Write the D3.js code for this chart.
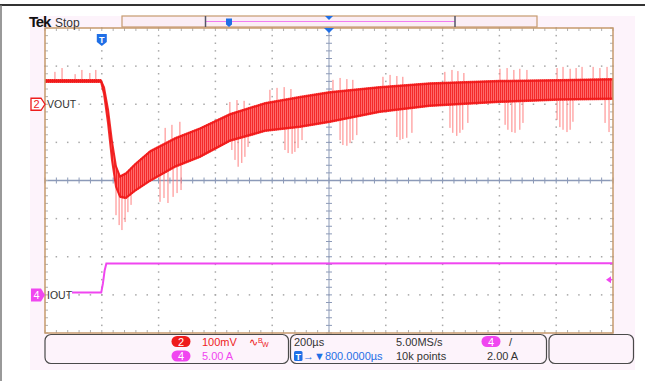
<!DOCTYPE html>
<html><head><meta charset="utf-8">
<script src="https://cdn.jsdelivr.net/npm/d3@7/dist/d3.min.js"></script>
<style>
body{margin:0;background:#fff}
svg{display:block}
text{font-family:"Liberation Sans",Arial,sans-serif}
</style></head>
<body><svg id="c" width="645" height="381"></svg>
<script>
// ---- data (time in µs relative to trigger) ----
const timeUs  = [-200, -3, 8, 22, 36, 50, 64, 85, 117, 170, 258, 346, 451, 575, 698, 803, 979, 1155, 1402, 1613, 1800];
const voutHi  = [66, 66, 48, -10, -94, -159, -186, -178, -154, -120, -86, -60, -23, 6, 22, 35, 48, 58, 64, 66, 69];   // mV, top of trace band
const voutLo  = [56, 56, 22, -54, -151, -220, -246, -249, -230, -204, -167, -141, -99, -73, -62, -49, -23, -7, 3, 9, 11]; // mV, bottom of band
const dipT = [50,61,71,82,92,103, 205,219,233,251,265,279, 458,469,480,493,504,515, 645,656,670,680,691,705,
              839,849,863,874,884,898, 1039,1050,1060,1074,1092, 1226,1236,1250,1261,1271,1289,
              1420,1430,1444,1455,1472,1483, 1603,1613,1624,1638,1649,1659, 1772,1786];
const dipV = [-291,-317,-330,-309,-283,-264, -256,-246,-259,-243,-233,-225, -120,-146,-164,-154,-138,-112,
              -120,-128,-130,-125,-115,-94, -94,-107,-109,-102,-94,-81, -86,-94,-91,-88,-75,
              -62,-75,-83,-75,-67,-49, -54,-67,-73,-75,-67,-49, -41,-60,-67,-73,-67,-46, -49,-73];
const peakT = [-165,-140,-94,-70,-42,-21, 223,247,275, 451,476,501, 592,617,642,666, 814,839,863,884,
               990,1015,1039,1060, 1208,1233,1254,1275, 1402,1427,1451,1472,1497, 1603,1624,1649,1670,1691, 1730,1754,1779];
const peakV = [85,95,79,90,82,90, -62,-54,-46, 6,11,9, 38,43,45,40, 64,69,66,64,
               72,77,74,72, 85,90,87,82, 93,95,90,93,90, 95,98,93,95,98, 98,95,98];
const ioutT = [-105, -2, 4, 10, 16, 1800];
const ioutA = [0.3, 0.3, 1.5, 3.2, 4.1, 4.15];
const timeDomain = [-200, 1800];     // 200 µs/div, trigger at 1 div
const ch2Domain = [-600, 200];       // 100 mV/div, marker +2 div
const ch4Domain = [-5, 35];          // 5 A/div, marker -3 div
const trigLevelA = 2.0;
const row1 = {ch2: "100mV", time: "200µs", rate: "5.00MS/s"};
const row2 = {ch4: "5.00 A", pos: "→▼800.0000µs", pts: "10k points", trig: "2.00 A"};

// ---- layout ----
const L=45, R=613, T=28, B=333;
const svg = d3.select("#c");
const x = d3.scaleLinear().domain(timeDomain).range([L,R]);
const y2 = d3.scaleLinear().domain(ch2Domain).range([B,T]);
const y4 = d3.scaleLinear().domain(ch4Domain).range([B,T]);
const gx = d3.scaleLinear().domain([0,10]).range([L,R]);
const gy = d3.scaleLinear().domain([0,8]).range([T,B]);

// backgrounds / frame
svg.append("rect").attr("x",30).attr("y",16).attr("width",605).attr("height",354).attr("fill","#fdf3fb");
svg.append("line").attr("x1",0).attr("x2",645).attr("y1",5).attr("y2",5).attr("stroke","#333").attr("stroke-width",2);
svg.append("line").attr("x1",1).attr("x2",1).attr("y1",5).attr("y2",381).attr("stroke","#777").attr("stroke-width",1.5);
svg.append("rect").attr("x",L).attr("y",T).attr("width",R-L).attr("height",B-T).attr("fill","#fff");

// grid dots
const minor = d3.range(0, 50.01, 1).map(d=>d/5);
const minorY = d3.range(0, 40.01, 1).map(d=>d/5);
const grid = svg.append("g").attr("fill","#a8a8a8");
for (let i=1;i<10;i++){ if(i===5) continue;
  grid.selectAll(null).data(minorY).join("rect").attr("x",gx(i)-0.75).attr("y",d=>gy(d)-0.75).attr("width",1.5).attr("height",1.5);
}
for (let j=1;j<8;j++){ if(j===4) continue;
  grid.selectAll(null).data(minor).join("rect").attr("x",d=>gx(d)-0.75).attr("y",gy(j)-0.75).attr("width",1.5).attr("height",1.5);
}
// center lines with ticks
const cl = svg.append("g").attr("stroke","#8c9ab8");
cl.append("line").attr("x1",L).attr("x2",R).attr("y1",gy(4)).attr("y2",gy(4)).attr("stroke-width",1.6);
cl.append("line").attr("x1",gx(5)).attr("x2",gx(5)).attr("y1",T).attr("y2",B).attr("stroke-width",1.3).attr("stroke","#a8b2c8");
cl.selectAll(null).data(minor).join("line").attr("x1",d=>gx(d)).attr("x2",d=>gx(d)).attr("y1",gy(4)-3).attr("y2",gy(4)+3).attr("stroke-width",1);
cl.selectAll(null).data(minorY).join("line").attr("y1",d=>gy(d)).attr("y2",d=>gy(d)).attr("x1",gx(5)-3).attr("x2",gx(5)+3).attr("stroke-width",1);
// edge ticks
const et = svg.append("g").attr("stroke","#b0b0b0").attr("stroke-width",1);
et.selectAll(null).data(minor).join("line").attr("x1",d=>gx(d)).attr("x2",d=>gx(d)).attr("y1",T).attr("y2",T+3);
et.selectAll(null).data(minor).join("line").attr("x1",d=>gx(d)).attr("x2",d=>gx(d)).attr("y1",B-3).attr("y2",B);
et.selectAll(null).data(minorY).join("line").attr("y1",d=>gy(d)).attr("y2",d=>gy(d)).attr("x1",L).attr("x2",L+3);
et.selectAll(null).data(minorY).join("line").attr("y1",d=>gy(d)).attr("y2",d=>gy(d)).attr("x1",R-3).attr("x2",R);

// VOUT trace
const defs = svg.append("defs");
const pat = defs.append("pattern").attr("id","hair").attr("width",2).attr("height",6).attr("patternUnits","userSpaceOnUse");
pat.append("rect").attr("width",2).attr("height",6).attr("fill","#ff6a6a");
pat.append("rect").attr("width",1).attr("height",6).attr("fill","#f42a2a");
const band = timeUs.map((t,i)=>({t, hi:voutHi[i], lo:voutLo[i]}));
const loAt = d3.scaleLinear().domain(timeUs).range(voutLo);
const hiAt = d3.scaleLinear().domain(timeUs).range(voutHi);
const tr = svg.append("g");
tr.selectAll(null).data(dipT).join("line")
  .attr("x1",d=>x(d)).attr("x2",d=>x(d)).attr("y1",d=>y2(loAt(d))-2).attr("y2",(d,i)=>y2(dipV[i]))
  .attr("stroke","#ff8080").attr("stroke-width",1);
tr.selectAll(null).data(peakT).join("line")
  .attr("x1",d=>x(d)).attr("x2",d=>x(d)).attr("y1",d=>y2(hiAt(d))+2).attr("y2",(d,i)=>y2(peakV[i]))
  .attr("stroke","#ff8080").attr("stroke-width",1);
tr.append("path").datum(band).attr("fill","url(#hair)")
  .attr("d", d3.area().x(d=>x(d.t)).y0(d=>y2(d.lo)).y1(d=>y2(d.hi)));
tr.append("path").datum(band).attr("fill","none").attr("stroke","#f01818").attr("stroke-width",2).attr("stroke-opacity",0.9)
  .attr("d", d3.line().x(d=>x(d.t)).y(d=>y2(d.hi)+1.5));
tr.append("path").datum(band).attr("fill","none").attr("stroke","#f01818").attr("stroke-width",2).attr("stroke-opacity",0.9)
  .attr("d", d3.line().x(d=>x(d.t)).y(d=>y2(d.lo)-1.5));

// IOUT trace
svg.append("path").datum(ioutT.map((t,i)=>({t,a:ioutA[i]}))).attr("fill","none").attr("stroke","#f046f0").attr("stroke-width",2)
  .attr("d", d3.line().x(d=>x(d.t)).y(d=>y4(d.a)));

// plot border
svg.append("rect").attr("x",L).attr("y",T).attr("width",R-L).attr("height",B-T).attr("fill","none").attr("stroke","#c69a6e").attr("stroke-width",1.5);

// trigger markers
const blue = "#1f6fe6";
svg.append("path").attr("d",`M${x(0)-5},${T+6}h10v8l-5,4l-5,-4z`).attr("fill",blue);
svg.append("text").attr("x",x(0)).attr("y",T+15).attr("text-anchor","middle").attr("fill","#fff").attr("font-size",9).attr("font-weight","bold").text("T");
svg.append("path").attr("d",`M${gx(5)-5},${T}h10l-5,5z`).attr("fill",blue);
// trigger level arrow (ch4)
const ty = y4(trigLevelA);
svg.append("path").attr("d",`M${R-7},${ty}l5,-3.5v7z`).attr("fill","#f046f0");
svg.append("line").attr("x1",R-4).attr("x2",R-1).attr("y1",ty).attr("y2",ty).attr("stroke","#f046f0").attr("stroke-width",1.5);

// channel tags
const tag2y = y2(0), tag4y = y4(0);
svg.append("path").attr("d",`M31,${tag2y-6}h10l4,6l-4,6h-10z`).attr("fill","#fff").attr("stroke","#ee1c1c").attr("stroke-width",1.3);
svg.append("text").attr("x",36.5).attr("y",tag2y+4).attr("text-anchor","middle").attr("fill","#ee1c1c").attr("font-size",11).text("2");
svg.append("text").attr("x",47).attr("y",tag2y+4).attr("fill","#333").attr("font-size",10.5).text("VOUT");
svg.append("path").attr("d",`M31,${tag4y-6.5}h10l4,6.5l-4,6.5h-10z`).attr("fill","#f046f0");
svg.append("text").attr("x",36.5).attr("y",tag4y+4).attr("text-anchor","middle").attr("fill","#fff").attr("font-size",11).text("4");
svg.append("text").attr("x",47).attr("y",tag4y+4).attr("fill","#333").attr("font-size",10.5).text("IOUT");

// top bar
svg.append("text").attr("x",29).attr("y",27).attr("font-family","DejaVu Sans").attr("font-weight","bold").attr("font-size",15).attr("letter-spacing",-1.2).attr("fill","#111").text("Tek");
svg.append("text").attr("x",55).attr("y",26.5).attr("font-size",12).attr("fill","#333").text("Stop");
svg.append("rect").attr("x",122).attr("y",16).attr("width",415).attr("height",11).attr("fill","#fbeef5").attr("stroke","#c69a6e").attr("stroke-width",1.2);
svg.append("line").attr("x1",206).attr("x2",455).attr("y1",21.5).attr("y2",21.5).attr("stroke","#f27cf2").attr("stroke-width",1.2);
svg.append("line").attr("x1",205.5).attr("x2",205.5).attr("y1",16).attr("y2",27).attr("stroke","#556",).attr("stroke-width",1.5);
svg.append("line").attr("x1",455).attr("x2",455).attr("y1",16).attr("y2",27).attr("stroke","#556").attr("stroke-width",1.5);
svg.append("path").attr("d","M226,18.5h6v6l-3,2.5l-3,-2.5z").attr("fill",blue);
svg.append("path").attr("d",`M${gx(5)-4},16h8l-4,4z`).attr("fill",blue);

// info boxes
const box = (x0,x1)=>svg.append("rect").attr("x",x0).attr("y",334.5).attr("width",x1-x0).attr("height",29).attr("rx",6).attr("fill","none").attr("stroke","#4a4a4a").attr("stroke-width",1.2);
box(45,288.5); box(290.5,546.5); box(549,633.5);
const badge = (cx,cy,col,t)=>{svg.append("rect").attr("x",cx-9.5).attr("y",cy-5.5).attr("width",19).attr("height",11).attr("rx",5.5).attr("fill",col);
  svg.append("text").attr("x",cx).attr("y",cy+4).attr("text-anchor","middle").attr("fill","#fff").attr("font-size",11).text(t);};
badge(181,341.5,"#ee1c1c","2"); badge(181,356,"#f046f0","4"); badge(491,341.5,"#f046f0","4");
svg.append("text").attr("x",202).attr("y",345.5).attr("font-size",11).attr("fill","#ee1c1c").text(row1.ch2);
svg.append("text").attr("x",249).attr("y",345.5).attr("font-size",11).attr("fill","#ee1c1c").text("∿");
svg.append("text").attr("x",258).attr("y",343).attr("font-size",7).attr("fill","#ee1c1c").text("B");
svg.append("text").attr("x",262).attr("y",347).attr("font-size",7).attr("fill","#ee1c1c").text("W");
svg.append("text").attr("x",202).attr("y",360).attr("font-size",11).attr("fill","#f046f0").text(row2.ch4);
svg.append("text").attr("x",294).attr("y",345.5).attr("font-size",11).attr("fill","#333").text(row1.time);
svg.append("rect").attr("x",294).attr("y",351).attr("width",8.5).attr("height",10).attr("rx",1.5).attr("fill",blue);
svg.append("text").attr("x",298.2).attr("y",359.5).attr("text-anchor","middle").attr("font-size",9).attr("font-weight","bold").attr("fill","#fff").text("T");
svg.append("text").attr("x",303).attr("y",360).attr("font-size",11).attr("fill",blue).text(row2.pos);
svg.append("text").attr("x",396).attr("y",345.5).attr("font-size",11).attr("fill","#333").text(row1.rate);
svg.append("text").attr("x",396).attr("y",360).attr("font-size",11).attr("fill","#333").text(row2.pts);
svg.append("text").attr("x",509).attr("y",345.5).attr("font-size",11).attr("fill","#333").text("/");
svg.append("text").attr("x",487).attr("y",360).attr("font-size",11).attr("fill","#333").text(row2.trig);
</script></body></html>
